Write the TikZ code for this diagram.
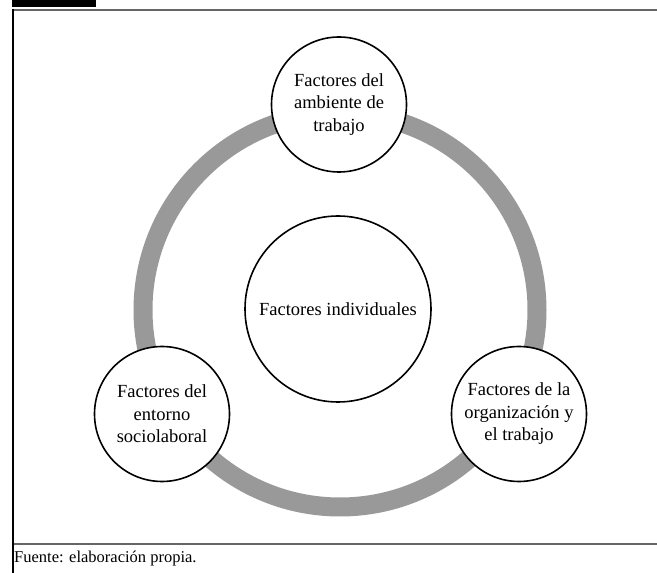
\documentclass[tikz,border=0pt]{standalone}
\usepackage{fontspec}
\setmainfont{Liberation Serif}
\usetikzlibrary{calc}
\definecolor{grisanillo}{HTML}{999999}
\definecolor{grislinea}{HTML}{666666}

\tikzset{
  factor/.style={circle, draw=black, line width=1.6pt, fill=white,
    minimum size=135pt, inner sep=0pt, align=center,
    font=\fontsize{18.5}{22.5}\selectfont},
  central/.style={factor, minimum size=186pt},
  anillo/.style={draw=grisanillo, line width=19pt},
}

\begin{document}
\begin{tikzpicture}[x=1pt, y=1pt]
  \useasboundingbox (0,0) rectangle (657,573);

  % Marco de la figura
  \fill[black] (12,566) rectangle (96,573);
  \draw[grislinea, line width=2pt] (12,563) -- (657,563);
  \draw[grislinea, line width=2.5pt] (12,29) -- (657,29);
  \draw[black, line width=2pt] (12.5,564) -- (12.5,0);

  % Anillo
  \draw[anillo] (340,263) circle (197pt);

  % Factores
  \node[central] (individuales) at (338,264) {Factores individuales};
  \node[factor] (ambiente) at (339,468.5) {Factores del\\ambiente de\\trabajo};
  \node[factor] (entorno) at (162,159) {Factores del\\entorno\\sociolaboral};
  \node[factor] (organizacion) at (519,159) {Factores de la\\organización y\\el trabajo};

  % Fuente
  \node[anchor=west, inner sep=0pt, font=\fontsize{16.5}{18}\selectfont]
    (fuente) at (14,14) {Fuente: elaboración propia.};
\end{tikzpicture}
\end{document}
